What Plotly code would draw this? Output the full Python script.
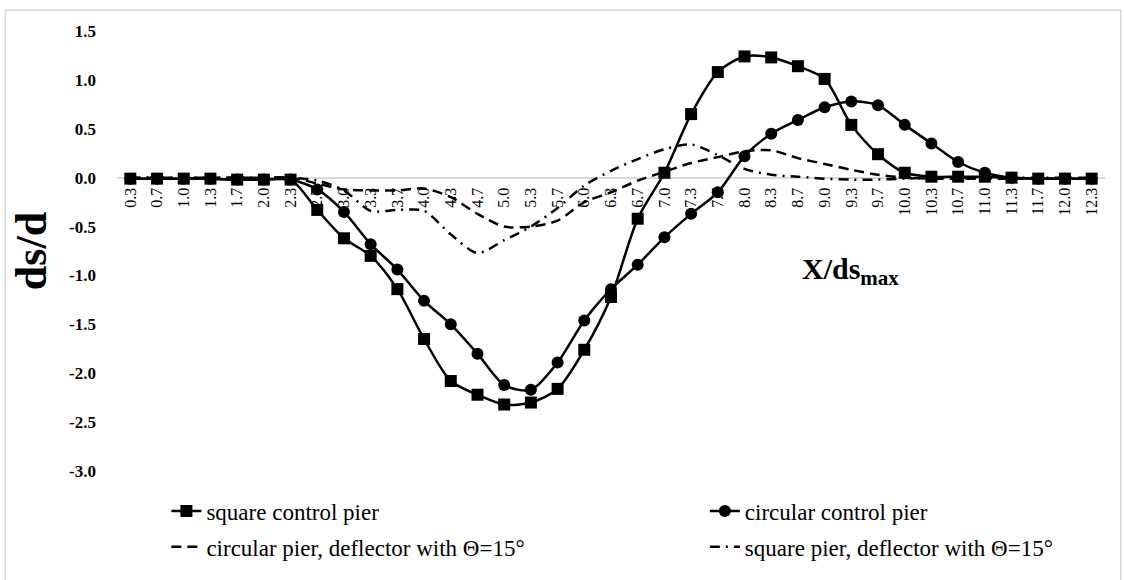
import plotly.graph_objects as go

# Relative distance along the channel (category axis)
categories = ["0.3", "0.7", "1.0", "1.3", "1.7", "2.0", "2.3", "2.7", "3.0", "3.3",
              "3.7", "4.0", "4.3", "4.7", "5.0", "5.3", "5.7", "6.0", "6.3", "6.7",
              "7.0", "7.3", "7.7", "8.0", "8.3", "8.7", "9.0", "9.3", "9.7", "10.0",
              "10.3", "10.7", "11.0", "11.3", "11.7", "12.0", "12.3"]

# Relative scour depth ds/d for each configuration
square_control = [-0.01, -0.01, -0.01, -0.01, -0.02, -0.02, -0.02, -0.33, -0.62, -0.80,
                  -1.14, -1.65, -2.08, -2.22, -2.32, -2.30, -2.16, -1.76, -1.22, -0.42,
                  0.05, 0.65, 1.08, 1.24, 1.23, 1.14, 1.01, 0.54, 0.24, 0.05,
                  0.01, 0.01, 0.01, 0.00, -0.01, -0.01, -0.01]

circular_control = [-0.01, -0.01, -0.01, -0.01, -0.02, -0.02, -0.02, -0.12, -0.35, -0.68,
                    -0.94, -1.26, -1.50, -1.80, -2.12, -2.17, -1.89, -1.46, -1.14, -0.89,
                    -0.61, -0.37, -0.15, 0.22, 0.45, 0.59, 0.72, 0.78, 0.74, 0.54,
                    0.35, 0.16, 0.05, 0.00, -0.01, -0.01, -0.01]

circular_deflector = [0.00, 0.00, 0.00, 0.00, 0.00, 0.00, 0.00, -0.06, -0.12, -0.13,
                      -0.13, -0.11, -0.20, -0.37, -0.50, -0.50, -0.44, -0.25, -0.15, -0.03,
                      0.06, 0.15, 0.21, 0.27, 0.28, 0.20, 0.14, 0.08, 0.03, 0.00,
                      -0.01, -0.01, -0.01, -0.01, -0.01, -0.01, -0.01]

square_deflector = [0.00, 0.00, 0.00, 0.00, 0.00, 0.00, 0.00, -0.03, -0.13, -0.34,
                    -0.33, -0.34, -0.58, -0.77, -0.64, -0.50, -0.31, -0.08, 0.07, 0.19,
                    0.29, 0.34, 0.23, 0.09, 0.03, 0.01, -0.01, -0.02, -0.02, -0.01,
                    0.00, 0.00, 0.00, 0.00, 0.00, 0.00, 0.00]

y_ticks = [1.5, 1.0, 0.5, 0.0, -0.5, -1.0, -1.5, -2.0, -2.5, -3.0]

FONT = "Liberation Serif, Times New Roman, serif"
SMOOTH = 0.8

fig = go.Figure()

fig.add_trace(go.Scatter(
    x=categories, y=square_control, name="square control pier",
    mode="lines+markers", line=dict(color="black", width=2.5, shape="spline", smoothing=SMOOTH),
    marker=dict(symbol="square", size=12, color="black"),
    legend="legend", legendgroup="a"))

fig.add_trace(go.Scatter(
    x=categories, y=circular_control, name="circular control pier",
    mode="lines+markers", line=dict(color="black", width=2.5, shape="spline", smoothing=SMOOTH),
    marker=dict(symbol="circle", size=12, color="black"),
    legend="legend2", legendgroup="b"))

fig.add_trace(go.Scatter(
    x=categories, y=circular_deflector, name="circular pier, deflector with \u0398=15\u00b0",
    mode="lines", line=dict(color="black", width=2.5, dash="10px,6px", shape="spline", smoothing=SMOOTH),
    legend="legend", legendgroup="c"))

fig.add_trace(go.Scatter(
    x=categories, y=square_deflector, name="square pier, deflector with \u0398=15\u00b0",
    mode="lines", line=dict(color="black", width=2.5, dash="10px,6px,2px,6px", shape="spline", smoothing=SMOOTH),
    legend="legend2", legendgroup="d"))

Y_MIN, Y_MAX = -3.0, 1.5
zero_pos = (0 - Y_MIN) / (Y_MAX - Y_MIN)

legend_font = dict(family=FONT, size=23, color="black")

fig.update_layout(
    width=1124, height=580,
    margin=dict(l=117, r=19, t=31, b=80),
    paper_bgcolor="white", plot_bgcolor="white",
    font=dict(family=FONT, color="black"),
    showlegend=True,
    legend=dict(x=0.05, xanchor="left", y=-0.042, yanchor="top",
                font=legend_font, tracegroupgap=3, bgcolor="rgba(0,0,0,0)"),
    legend2=dict(x=0.595, xanchor="left", y=-0.042, yanchor="top",
                 font=legend_font, tracegroupgap=3, bgcolor="rgba(0,0,0,0)"),
    xaxis=dict(type="category", categoryorder="array", categoryarray=categories,
               range=[-0.5, len(categories) - 0.5],
               anchor="free", position=zero_pos, side="bottom",
               showline=False, showgrid=False, zeroline=False,
               tickangle=-90, ticks="", ticklabelstandoff=6,
               tickfont=dict(family=FONT, size=16, color="black")),
    yaxis=dict(range=[Y_MIN, Y_MAX],
               tickvals=y_ticks, ticktext=["<b>%.1f</b>" % v for v in y_ticks],
               showgrid=False, showline=False, zeroline=True,
               zerolinecolor="#d9d9d9", zerolinewidth=1.5,
               ticks="", ticklabelstandoff=20,
               tickfont=dict(family=FONT, size=17, color="black"),
               title=dict(text="<b>ds/d</b>", font=dict(family=FONT, size=44, color="black"),
                          standoff=8)),
    annotations=[dict(text="<b>X/ds<sub>max</sub></b>", x=0.742, y=-0.95,
                      xref="paper", yref="y", showarrow=False,
                      xanchor="center", yanchor="middle",
                      font=dict(family=FONT, size=30, color="black"))],
    shapes=[dict(type="rect", xref="paper", yref="paper",
                 x0=-0.113, x1=1.016, y0=-0.25, y1=1.047,
                 line=dict(color="#d9d9d9", width=1.5), fillcolor="rgba(0,0,0,0)",
                 layer="below")],
)

fig.write_html("out.html")
